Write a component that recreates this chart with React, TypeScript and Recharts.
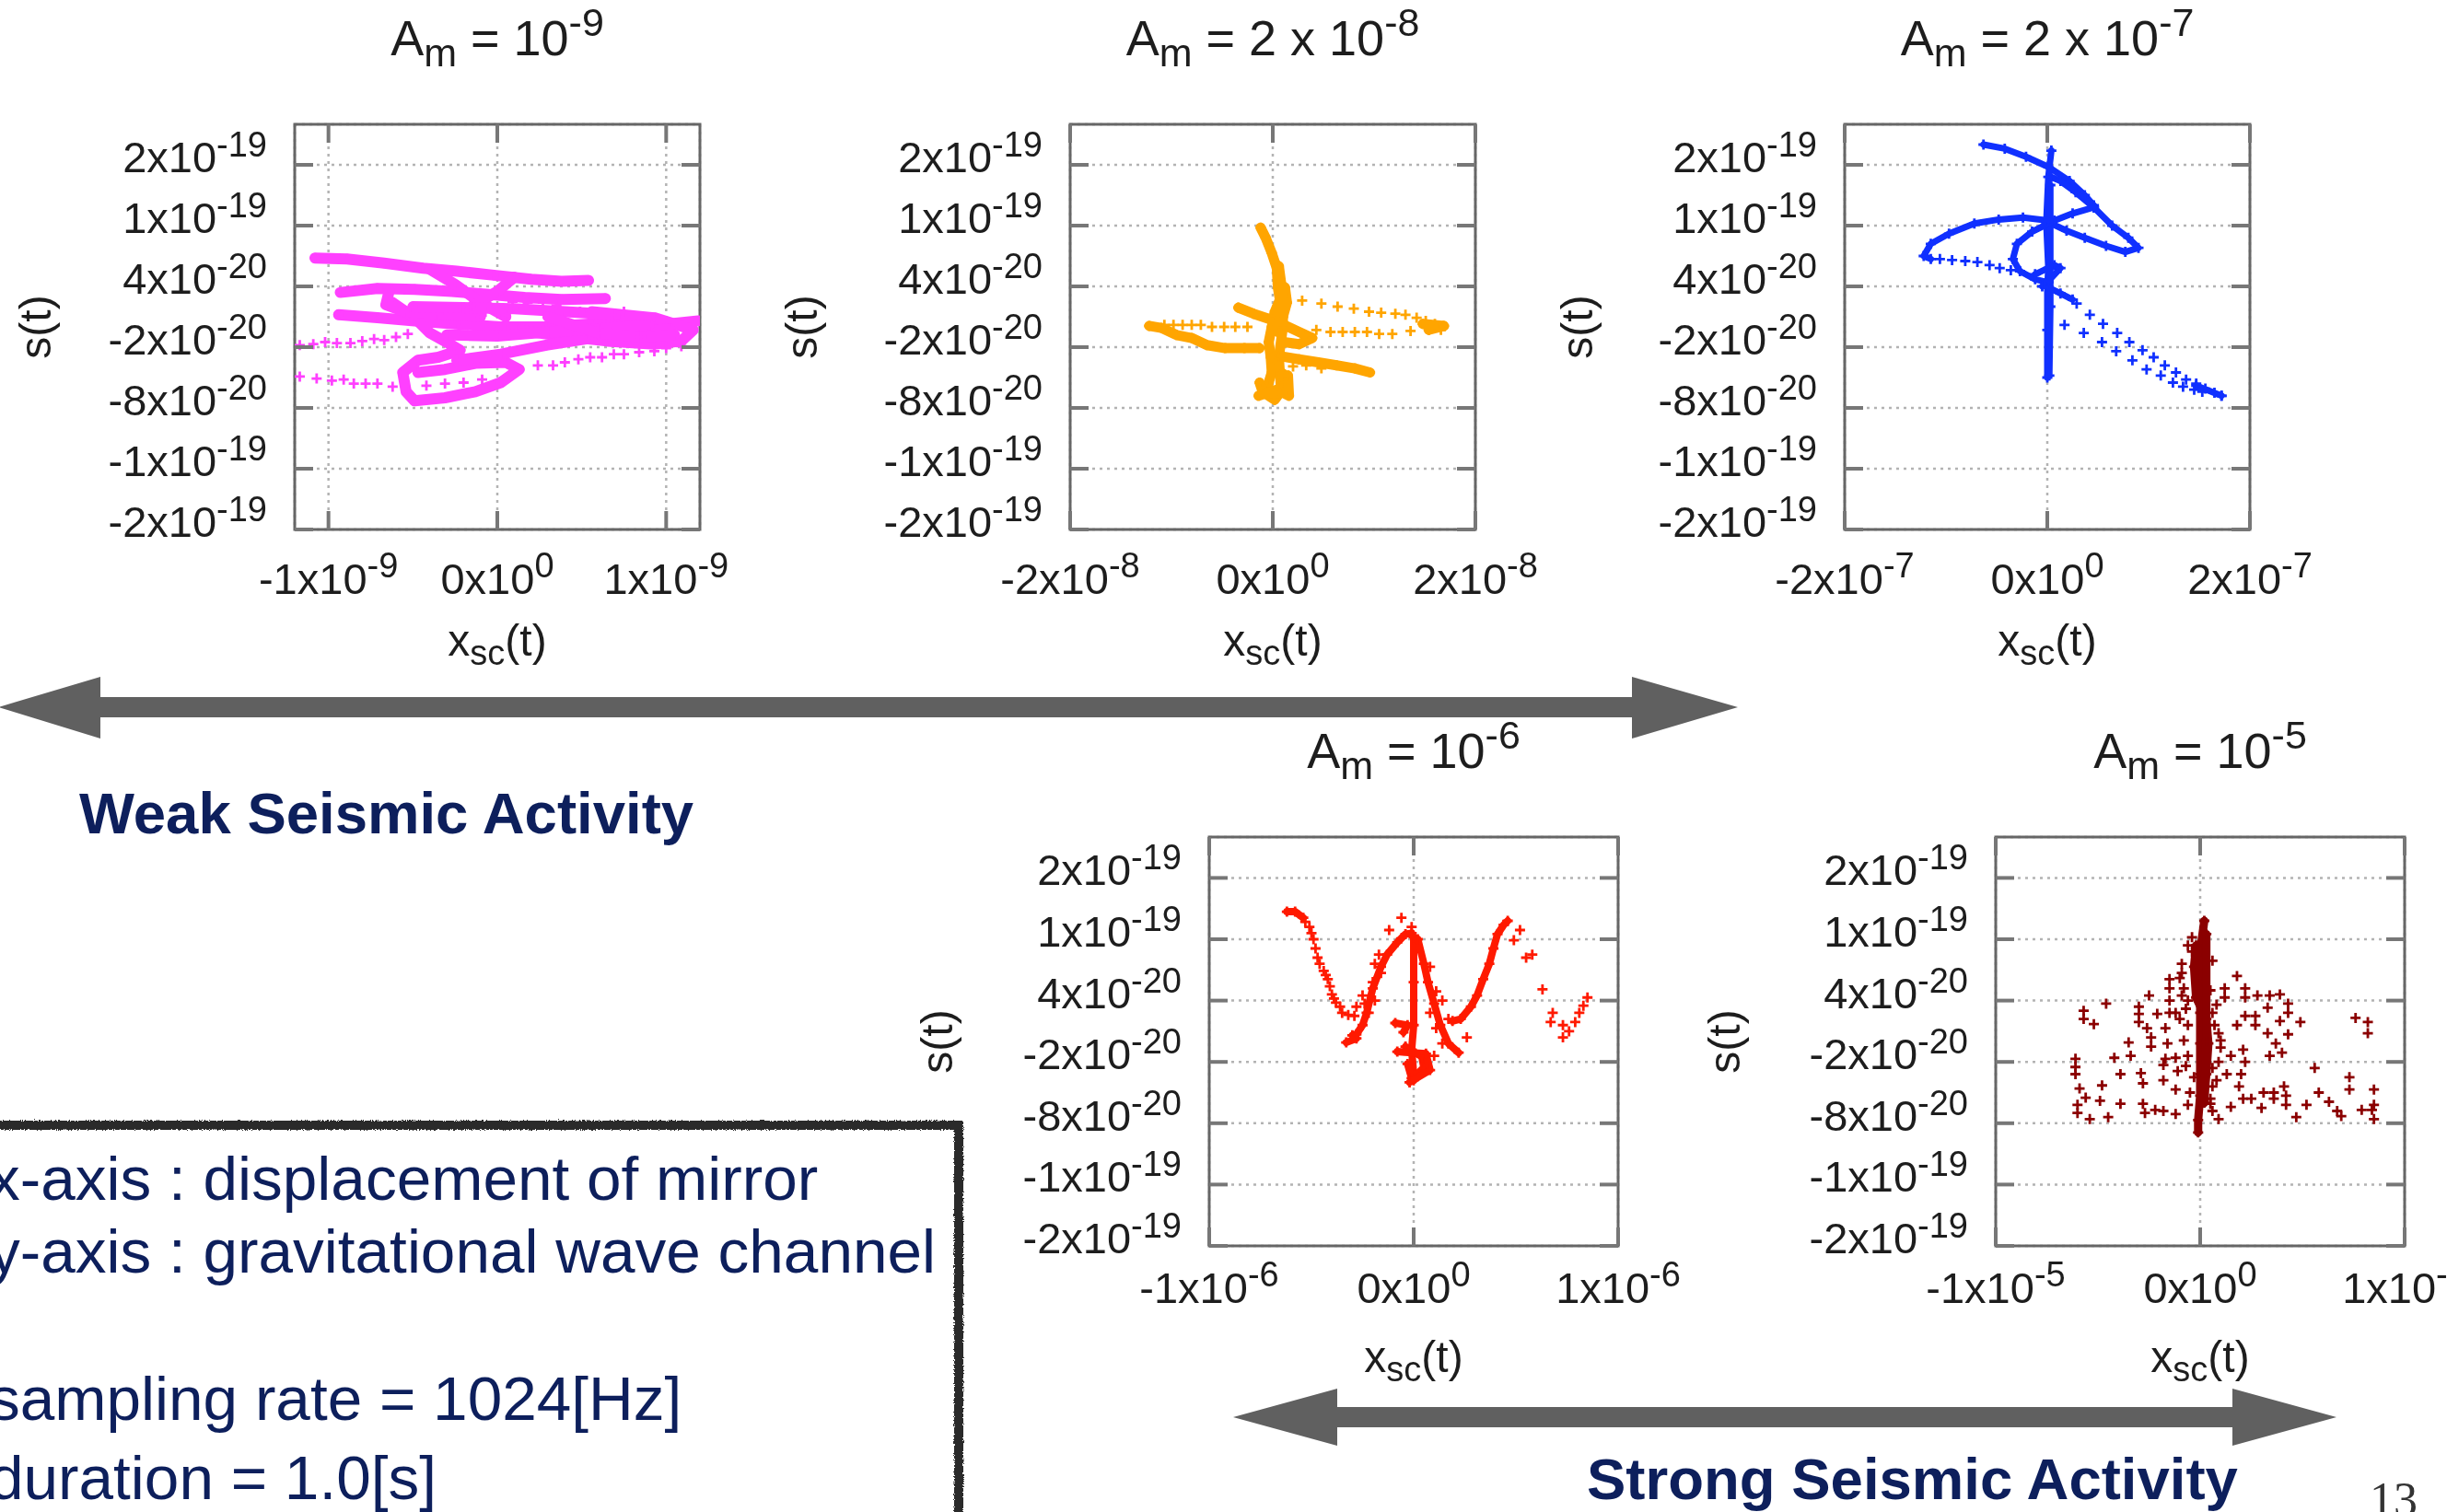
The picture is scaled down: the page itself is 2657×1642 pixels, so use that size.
import React from "react";
import { ScatterChart, Scatter, XAxis, YAxis, CartesianGrid, ReferenceArea } from "recharts";

type Pt = [number, number];
type TickText = [string, string]; // mantissa, exponent of "m x 10^e"

// s(t) axis, values in units of 1e-20 (same for all panels)
const S_DOMAIN: [number, number] = [-20, 20];
const S_TICKS = [-20, -14, -8, -2, 4, 10, 16];
const S_TICK_LABELS: TickText[] = [
  ["-2", "-19"], ["-1", "-19"], ["-8", "-20"], ["-2", "-20"], ["4", "-20"], ["1", "-19"], ["2", "-19"],
];

// ---- A_m = 1e-9 : x in units of 1e-9 ----
const AM1E9_X_TICKS = [-1, 0, 1];
const AM1E9_X_LABELS: TickText[] = [["-1", "-9"], ["0", "0"], ["1", "-9"]];
const am1e9Trails: Pt[][] = [
  [[-1.08, 6.8], [-0.89, 6.7], [-0.67, 6.3], [-0.44, 5.8], [-0.24, 5.5], [-0.02, 5.1], [0.2, 4.7], [0.38, 4.5], [0.54, 4.6]],
  [[-0.93, 3.4], [-0.71, 3.8], [-0.49, 3.7], [-0.27, 3.5], [-0.05, 3.2], [0.16, 2.9], [0.38, 2.7], [0.64, 2.8]],
  [[-0.94, 1.2], [-0.71, 0.9], [-0.49, 0.6], [-0.25, 0.3], [0.02, 0.0], [0.29, 0.0], [0.56, 0.3], [0.84, 0.6], [1.02, 0.3], [1.19, 0.6]],
  [[0.56, 1.5], [0.93, 0.9], [1.16, -0.3], [1.09, -1.4], [0.93, -1.7], [0.65, -1.4], [0.38, -0.9], [0.11, -0.3]],
  [[-0.62, 2.4], [-0.49, 0.9], [-0.4, -0.6], [-0.27, -1.8], [-0.22, -2.3], [-0.35, -3.0], [-0.47, -3.3], [-0.56, -4.5], [-0.54, -6.4], [-0.49, -7.3], [-0.31, -7.0], [-0.13, -6.4], [0.02, -5.5], [0.13, -4.2], [0.05, -3.5], [-0.13, -3.6], [-0.31, -4.2], [-0.47, -4.5]],
  [[-0.24, -3.3], [0.02, -2.7], [0.29, -1.8], [0.56, -1.1], [0.84, -0.5], [1.02, -0.2]],
  [[-0.64, 3.6], [-0.66, 2.2], [-0.55, 1.5], [-0.35, 1.3], [-0.1, 1.0]],
  [[-0.4, 5.7], [-0.25, 4.2], [-0.1, 2.4], [0.05, 1.0]],
  [[0.1, 4.9], [0.0, 3.5], [-0.15, 2.0]],
  [[-0.5, 2.0], [-0.2, 1.9], [0.1, 1.8], [0.4, 1.5], [0.7, 1.2]],
  [[-0.3, -0.8], [0.0, -0.9], [0.3, -0.5], [0.6, -0.2], [0.9, 0.2]],
  [[0.3, 1.0], [0.6, -0.6], [0.85, -1.0], [1.05, -0.8]],
];
const am1e9Dots: Pt[] = [
  [-1.17, -1.8], [-1.09, -1.7], [-1.02, -1.5], [-0.95, -1.6], [-0.87, -1.6], [-0.8, -1.4], [-0.73, -1.2], [-0.67, -1.3], [-0.6, -1.0], [-0.53, -0.7],
  [-1.17, -4.9], [-1.07, -5.1], [-0.98, -5.3], [-0.91, -5.2], [-0.85, -5.6], [-0.78, -5.6], [-0.71, -5.6], [-0.62, -5.9],
  [0.24, -3.8], [0.33, -3.8], [0.4, -3.5], [0.48, -3.2], [0.55, -3.0], [0.62, -3.0], [0.69, -2.7], [0.75, -2.7], [0.84, -2.5], [0.93, -2.4], [1.0, -2.1], [1.09, -1.9],
  [0.09, 2.5], [0.18, 2.4], [0.27, 2.4], [0.35, 2.1], [-0.16, 2.0], [-0.07, 1.5], [0.05, 1.2], [0.49, 1.5], [0.75, 1.5],
  [-0.42, -5.8], [-0.31, -5.6], [-0.2, -5.5], [-0.09, -5.2],
];

// ---- A_m = 2e-8 : x in units of 1e-8 ----
const AM2E8_X_TICKS = [-2, 0, 2];
const AM2E8_X_LABELS: TickText[] = [["-2", "-8"], ["0", "0"], ["2", "-8"]];
const am2e8Trails: Pt[][] = [
  [[-0.12, 9.8], [-0.07, 8.8], [-0.01, 7.3], [0.04, 5.8], [0.05, 3.9], [0.07, 2.7], [0.02, 1.5], [-0.01, 0.0], [-0.04, -1.5], [-0.02, -3.0], [-0.01, -4.5], [-0.05, -5.8], [0.02, -7.0], [0.1, -5.8], [0.07, -4.5]],
  [[0.12, 3.9], [0.14, 2.4], [0.1, 1.0], [0.05, -0.5]],
  [[0.06, 6.0], [0.1, 3.0], [0.1, 0.0], [0.06, -3.0], [0.08, -6.0]],
  [[-0.13, -5.5], [-0.1, -6.4], [0.02, -7.2], [0.14, -5.5], [0.1, -4.6]],
  [[-0.14, -6.8], [0.04, -6.2], [0.16, -6.8], [0.15, -4.8]],
  [[-1.22, 0.1], [-1.1, -0.1], [-0.95, -0.8], [-0.8, -1.1], [-0.65, -1.8], [-0.47, -2.1], [-0.28, -2.1], [-0.13, -2.1]],
  [[-0.34, 1.9], [-0.19, 1.3], [-0.04, 0.8], [0.11, 0.2], [0.26, -0.5], [0.39, -1.1], [0.26, -1.7], [0.11, -1.5]],
  [[0.08, -2.9], [0.26, -3.2], [0.45, -3.5], [0.63, -3.8], [0.81, -4.1], [0.96, -4.5]],
  [[1.48, 0.3], [1.69, 0.1], [1.54, -0.3]],
];
const am2e8Dots: Pt[] = [
  [-1.07, 0.2], [-0.98, 0.2], [-0.89, 0.2], [-0.8, 0.2], [-0.71, 0.2], [-0.6, 0.0], [-0.48, 0.0], [-0.37, 0.0], [-0.25, 0.0],
  [0.29, 2.6], [0.48, 2.3], [0.64, 2.0], [0.8, 1.8], [0.95, 1.5], [1.07, 1.4], [1.21, 1.3], [1.31, 1.2], [1.42, 0.9], [1.51, 0.6], [1.6, 0.3], [1.68, 0.1],
  [1.66, -0.3], [1.54, -0.3], [1.36, -0.4], [1.18, -0.7], [1.05, -0.7], [0.93, -0.5], [0.81, -0.5], [0.69, -0.5], [0.57, -0.5], [0.43, -0.3],
  [0.2, -3.9], [0.33, -3.8], [0.48, -4.1],
];

// ---- A_m = 2e-7 : x in units of 1e-7 ----
const AM2E7_X_TICKS = [-2, 0, 2];
const AM2E7_X_LABELS: TickText[] = [["-2", "-7"], ["0", "0"], ["2", "-7"]];
const am2e7Trails: Pt[][] = [
  [[0.04, 17.4], [0.01, 14.8], [-0.01, 10.3], [0.01, 5.8], [0.0, 3.9], [0.0, -0.3], [0.0, -5.0]],
  [[0.03, 14.0], [0.03, 2.0], [0.02, -4.8]],
  [[-0.63, 18.0], [-0.42, 17.6], [-0.21, 16.8], [0.01, 15.8], [0.22, 14.4], [0.37, 13.0], [0.46, 12.0]],
  [[0.46, 11.8], [0.28, 13.3], [0.13, 14.4], [0.04, 14.8]],
  [[0.46, 11.8], [0.64, 10.0], [0.8, 8.8], [0.9, 7.8], [0.77, 7.4], [0.58, 8.0], [0.37, 8.8], [0.19, 9.5], [0.04, 10.2]],
  [[0.46, 11.8], [0.25, 11.2], [0.07, 10.5], [-0.15, 9.4], [-0.3, 8.2], [-0.34, 6.7], [-0.27, 5.5], [-0.12, 4.7], [0.01, 4.4]],
  [[0.01, 10.5], [-0.24, 10.8], [-0.48, 10.6], [-0.72, 10.2], [-0.97, 9.2], [-1.15, 8.2], [-1.22, 7.0], [-1.15, 6.7]],
  [[-0.12, 5.2], [0.07, 6.1], [0.13, 5.8], [0.01, 4.5], [-0.05, 4.0]],
  [[0.01, 3.9], [0.13, 3.3], [0.25, 2.7]],
  [[1.47, -5.8], [1.72, -6.8]],
];
const am2e7Dots: Pt[] = [
  [-1.06, 6.7], [-0.94, 6.6], [-0.81, 6.5], [-0.69, 6.4], [-0.57, 6.1], [-0.47, 5.8], [-0.36, 5.6],
  [0.29, 2.3], [0.42, 1.2], [0.55, 0.3], [0.69, -0.6], [0.81, -1.5], [0.94, -2.3], [1.05, -3.0], [1.16, -3.8], [1.27, -4.5], [1.37, -5.2], [1.47, -5.6], [1.56, -6.1], [1.65, -6.5], [1.72, -6.8],
  [0.17, 0.2], [0.36, -0.6], [0.54, -1.5], [0.68, -2.4], [0.84, -3.3], [0.98, -4.2], [1.12, -4.8], [1.24, -5.5], [1.34, -5.9], [1.45, -6.2], [1.53, -6.4],
];

// ---- A_m = 1e-6 : x in units of 1e-6 ----
const AM1E6_X_TICKS = [-1, 0, 1];
const AM1E6_X_LABELS: TickText[] = [["-1", "-6"], ["0", "0"], ["1", "-6"]];
const am1e6Trails: Pt[][] = [
  [[-0.62, 12.7], [-0.58, 12.7], [-0.54, 12.1]],
  [[-0.33, -0.1], [-0.28, 0.3], [-0.3, 0.6], [-0.28, 0.7], [-0.25, 1.6], [-0.23, 2.8], [-0.2, 5.2], [-0.16, 7.3], [-0.13, 8.5], [-0.08, 9.7], [-0.04, 10.5], [-0.01, 10.6]],
  [[0, 10.2], [0, 5.8], [0, 1.6], [-0.01, -0.8], [0, -3.2], [0, -3.8]],
  [[-0.09, 1.8], [-0.03, 1.6], [-0.05, 0.9]],
  [[-0.04, -0.5], [0.04, -1.5], [0.05, -2.6], [-0.01, -3.6], [-0.03, -2.2]],
  [[-0.08, -1.0], [0.06, -1.2], [0.08, -2.8], [-0.02, -4.0]],
  [[0.02, 10.0], [0.05, 7.6], [0.07, 5.8], [0.1, 3.7], [0.13, 1.6], [0.17, -0.2], [0.22, -1.1]],
  [[0.19, 2.0], [0.23, 2.2], [0.28, 3.4], [0.31, 4.5], [0.34, 6.1], [0.37, 7.6], [0.39, 9.1], [0.41, 10.5], [0.44, 11.4], [0.46, 11.8]],
];
const am1e6Dots: Pt[] = [
  [-0.53, 11.7], [-0.51, 11.2], [-0.5, 10.6], [-0.49, 10.0], [-0.48, 9.1], [-0.47, 8.2], [-0.46, 7.6], [-0.44, 6.9], [-0.43, 6.5], [-0.42, 6.1], [-0.41, 5.4],
  [-0.4, 4.6], [-0.39, 4.2], [-0.38, 3.8], [-0.36, 3.4], [-0.35, 2.8], [-0.32, 2.6], [-0.29, 2.5], [-0.25, 4.5], [-0.22, 2.8], [-0.28, 3.4], [-0.24, 3.7], [-0.19, 4.0],
  [-0.2, 5.8], [-0.16, 6.7], [-0.12, 10.9], [-0.06, 12.1], [-0.01, 11.2], [-0.17, 8.5], [-0.19, 7.6],
  [0.08, 7.3], [0.11, 4.9], [0.14, 4.0], [0.08, 2.8], [0.11, 1.3], [0.14, -0.2], [0.1, -1.4], [0.26, 0.4], [0.17, 2.2],
  [0.52, 10.9], [0.49, 9.9], [0.55, 8.2], [0.58, 8.5], [0.63, 5.1], [0.68, 2.8], [0.67, 1.9], [0.73, 1.6], [0.73, 0.4], [0.76, 1.0], [0.79, 1.9], [0.81, 2.8], [0.83, 3.5], [0.85, 4.3],
];

// ---- A_m = 1e-5 : x in units of 1e-5 ----
const AM1E5_X_TICKS = [-1, 0, 1];
const AM1E5_X_LABELS: TickText[] = [["-1", "-5"], ["0", "0"], ["1", "-5"]];
const am1e5Trails: Pt[][] = [
  [[0.02, 11.8], [0.0, 8.8], [0.0, 5.8], [0.0, 2.8], [0.0, -0.2], [0.0, -3.2], [0.0, -5.3], [-0.01, -7.7], [-0.01, -8.9]],
  [[-0.02, 9.4], [-0.03, 7.3], [-0.02, 4.3], [0.03, 2.2], [0.04, -0.2], [0.03, -3.2], [0.02, -5.6]],
  [[0.03, 10.5], [0.03, 0.0], [0.02, -6.0]],
];
const am1e5Dots: Pt[] = [
  [-0.57, 3.0], [-0.57, 2.2], [-0.52, 1.7], [-0.46, 3.7], [-0.25, 4.5], [-0.3, 3.4], [-0.3, 2.7], [-0.3, 1.9], [-0.26, 1.3], [-0.24, 0.4],
  [-0.35, -0.1], [-0.24, -0.5], [-0.21, 2.7], [-0.15, 6.1], [-0.15, 5.2], [-0.15, 4.0], [-0.15, 2.8], [-0.09, 7.6], [-0.09, 6.7], [-0.09, 4.5],
  [-0.12, 2.8], [-0.17, 1.3], [-0.16, -0.2], [-0.17, -1.7], [-0.12, -1.6], [-0.11, -2.9], [-0.18, -2.3], [-0.18, -3.8], [-0.12, -4.7], [-0.06, -6.2],
  [-0.12, -7.1], [-0.18, -6.8], [-0.22, -6.7], [-0.28, -6.1], [-0.27, -7.0], [-0.39, -6.1], [-0.45, -7.4], [-0.54, -7.6], [-0.6, -6.2], [-0.6, -7.0],
  [-0.49, -5.8], [-0.56, -5.5], [-0.59, -4.6], [-0.61, -3.2], [-0.61, -2.5], [-0.61, -1.7], [-0.42, -1.6], [-0.34, -1.4], [-0.39, -3.2], [-0.48, -4.3],
  [-0.29, -3.1], [-0.28, -4.1],
  [0.06, 7.9], [0.18, 6.4], [0.22, 5.2], [0.22, 4.3], [0.28, 4.5], [0.34, 4.5], [0.39, 4.6], [0.43, 3.7], [0.43, 2.8], [0.49, 1.9],
  [0.39, 2.0], [0.33, 3.3], [0.27, 2.5], [0.27, 1.6], [0.22, 2.5], [0.18, 1.6], [0.12, 5.2], [0.12, 4.3], [0.1, 0.1], [0.15, -1.4],
  [0.21, -0.8], [0.22, -2.0], [0.2, -3.2], [0.19, -4.4], [0.21, -5.6], [0.25, -5.6], [0.31, -5.0], [0.3, -6.5], [0.36, -5.0], [0.36, -5.6],
  [0.41, -4.4], [0.42, -5.3], [0.42, -6.2], [0.34, -1.4], [0.4, -1.1], [0.43, 0.7], [0.37, -0.2], [0.33, 0.8], [0.47, -7.4], [0.52, -6.2],
  [0.56, -2.6], [0.58, -5.0], [0.63, -5.9], [0.67, -6.8], [0.69, -7.3], [0.73, -3.5], [0.73, -4.7], [0.76, 2.3], [0.82, 1.9], [0.82, 0.8],
  [0.85, -4.7], [0.79, -6.7], [0.84, -6.7], [0.85, -6.2], [0.85, -7.6], [0.15, -6.4], [0.09, -7.6], [0.05, -6.1], [0.09, -2.0], [0.13, -3.2],
  [-0.06, 9.4], [-0.04, 8.8], [-0.08, 5.2], [-0.06, 4.0], [-0.06, 1.6], [-0.08, 0.1], [-0.06, -1.4], [0.06, 2.8], [0.07, 1.6], [0.09, 0.8],
  [0.05, -5.6], [0.06, -4.4], [-0.03, -3.5], [-0.05, -5.0], [0.06, -2.6],
  [-0.07, 3.2], [-0.1, 2.2], [0.08, 3.6], [0.1, -0.6], [-0.07, -2.4], [0.08, -3.8], [-0.1, 6.2], [0.05, 5.0], [-0.04, 10.2], [0.06, -6.8],
];

const FONT = '"Liberation Sans", Arial, Helvetica, sans-serif';
const INK = "#1d1d1d";
const NAVY = "#0d1f5c";
const PAD_L = 330;
const PAD_T = 130;
const PAD_R = 130;
const PAD_B = 160;
const TICK_LEN = 20;

function Mark({ cx, cy, color }: { cx: number; cy: number; color: string }) {
  return <path d={`M${cx - 5.5},${cy}h11M${cx},${cy - 5.5}v11`} stroke={color} strokeWidth={2.8} fill="none" />;
}

function STick(props: any) {
  const { x, y, payload, size } = props;
  const idx = S_TICKS.indexOf(payload.value);
  const [m, e] = S_TICK_LABELS[idx] ?? ["", ""];
  return (
    <g>
      <line x1={x} x2={x + TICK_LEN} y1={y} y2={y} stroke="#777" strokeWidth={4} />
      <line x1={x + size - TICK_LEN} x2={x + size} y1={y} y2={y} stroke="#777" strokeWidth={4} />
      <text x={x - 30} y={y + 8} textAnchor="end" fontSize={47} fill={INK} fontFamily={FONT}>
        {m}x10<tspan fontSize={38} dy={-17}>{e}</tspan>
      </text>
    </g>
  );
}

function XTick(props: any) {
  const { x, y, payload, size, ticks, labels, labelDy } = props;
  const idx = ticks.indexOf(payload.value);
  const [m, e] = labels[idx] ?? ["", ""];
  return (
    <g>
      <line x1={x} x2={x} y1={y} y2={y - TICK_LEN} stroke="#777" strokeWidth={4} />
      <line x1={x} x2={x} y1={y - size} y2={y - size + TICK_LEN} stroke="#777" strokeWidth={4} />
      <text x={x} y={y + labelDy} textAnchor="middle" fontSize={47} fill={INK} fontFamily={FONT}>
        {m}x10<tspan fontSize={38} dy={-18}>{e}</tspan>
      </text>
    </g>
  );
}

interface PanelProps {
  left: number;
  top: number;
  size: number;
  sGap: number;
  xLabelDy: number;
  color: string;
  trailWidth: number;
  titleCoef: string;
  titleExp: string;
  xDomain: [number, number];
  xTicks: number[];
  xLabels: TickText[];
  trails: Pt[][];
  dots: Pt[];
}

function Panel(p: PanelProps) {
  const W = PAD_L + p.size + PAD_R;
  const H = PAD_T + p.size + PAD_B;
  const cx = PAD_L + p.size / 2;
  const cy = PAD_T + p.size / 2;
  const rows = (pts: Pt[]) => pts.map(([x, s]) => ({ x, s }));
  const shape = (sp: any) => <Mark cx={sp.cx} cy={sp.cy} color={p.color} />;

  return (
    <div style={{ position: "absolute", left: p.left - PAD_L, top: p.top - PAD_T, width: W, height: H, filter: "blur(0.6px)" }}>
      <ScatterChart width={W} height={H} margin={{ top: PAD_T, right: PAD_R, bottom: 0, left: 0 }}>
        <CartesianGrid stroke="#b3b3b3" strokeWidth={2.5} strokeDasharray="3 5" />
        <XAxis
          type="number"
          dataKey="x"
          domain={p.xDomain}
          ticks={p.xTicks}
          interval={0}
          allowDataOverflow
          height={PAD_B}
          axisLine={false}
          tickLine={false}
          tickSize={0}
          tickMargin={0}
          tick={(t: any) => <XTick {...t} size={p.size} ticks={p.xTicks} labels={p.xLabels} labelDy={p.xLabelDy} />}
        />
        <YAxis
          type="number"
          dataKey="s"
          domain={S_DOMAIN}
          ticks={S_TICKS}
          interval={0}
          allowDataOverflow
          width={PAD_L}
          axisLine={false}
          tickLine={false}
          tickSize={0}
          tickMargin={0}
          tick={(t: any) => <STick {...t} size={p.size} />}
        />
        <ReferenceArea
          x1={p.xDomain[0]}
          x2={p.xDomain[1]}
          y1={S_DOMAIN[0]}
          y2={S_DOMAIN[1]}
          fill="none"
          fillOpacity={0}
          stroke="#666"
          strokeWidth={3}
          ifOverflow="visible"
        />
        {p.trails.map((t, i) => (
          <Scatter
            key={`trail-${i}`}
            data={rows(t)}
            fill={p.color}
            line={{ stroke: p.color, strokeWidth: p.trailWidth, strokeLinecap: "round", strokeLinejoin: "round" }}
            shape={shape}
            isAnimationActive={false}
          />
        ))}
        <Scatter data={rows(p.dots)} fill={p.color} shape={shape} isAnimationActive={false} />
      </ScatterChart>
      <svg width={W} height={H} style={{ position: "absolute", left: 0, top: 0, pointerEvents: "none" }} fontFamily={FONT} fill={INK}>
        <text x={cx} y={PAD_T - 75} textAnchor="middle" fontSize={54} style={{ whiteSpace: "pre" }}>
          A<tspan fontSize={43} dy={12}>m</tspan>
          <tspan dy={-12}>{` = ${p.titleCoef}10`}</tspan>
          <tspan fontSize={43} dy={-21}>{p.titleExp}</tspan>
        </text>
        <text transform={`translate(${PAD_L - p.sGap}, ${cy}) rotate(-90)`} textAnchor="middle" dominantBaseline="central" fontSize={48}>
          s(t)
        </text>
        <text x={cx} y={PAD_T + p.size + 137} textAnchor="middle" fontSize={48}>
          x<tspan fontSize={38} dy={10}>sc</tspan>
          <tspan dy={-10}>(t)</tspan>
        </text>
      </svg>
    </div>
  );
}

export default function App() {
  return (
    <div style={{ position: "absolute", left: 0, top: 0, width: 2657, height: 1642, overflow: "hidden", background: "#fff", fontFamily: FONT }}>
      <svg width={2657} height={1642} style={{ position: "absolute", left: 0, top: 0 }} fontFamily={FONT}>
        <defs>
          <filter id="chalk" x="-5%" y="-5%" width="110%" height="110%">
            <feTurbulence type="fractalNoise" baseFrequency="0.9" numOctaves={2} result="noise" />
            <feDisplacementMap in="SourceGraphic" in2="noise" scale={4} />
          </filter>
        </defs>
        {/* weak-side double arrow */}
        <polygon
          points="-2,768 109,735 109,757 1772,757 1772,735 1887,768 1772,802 1772,779 109,779 109,802"
          fill="#606060"
        />
        {/* strong-side double arrow */}
        <polygon
          points="1339,1539 1452,1508 1452,1528 2424,1528 2424,1508 2537,1539 2424,1570 2424,1550 1452,1550 1452,1570"
          fill="#606060"
        />
        <text x={86} y={905} fontSize={63.5} fontWeight="bold" fill={NAVY}>Weak Seismic Activity</text>
        <text x={1723} y={1628} fontSize={63.5} fontWeight="bold" fill={NAVY}>Strong Seismic Activity</text>

        <rect x={-30} y={1222} width={1071} height={600} fill="none" stroke="#2b2b2b" strokeWidth={10} filter="url(#chalk)" />
        <text x={-12} y={1303} fontSize={67.5} fill={NAVY}>x-axis : displacement of mirror</text>
        <text x={-12} y={1382} fontSize={67.5} fill={NAVY}>y-axis : gravitational wave channel</text>
        <text x={-12} y={1542} fontSize={67.5} fill={NAVY}>sampling rate = 1024[Hz]</text>
        <text x={-12} y={1628} fontSize={67.5} fill={NAVY}>duration = 1.0[s]</text>

        <text x={2573} y={1646} fontSize={52} fontFamily='"Liberation Serif", serif' fill="#333">13</text>
      </svg>

      <Panel left={320} top={135} size={440} sGap={282} xLabelDy={70} color="#ff40ff" trailWidth={12}
        titleCoef="" titleExp="-9" xDomain={[-1.2, 1.2]} xTicks={AM1E9_X_TICKS} xLabels={AM1E9_X_LABELS}
        trails={am1e9Trails} dots={am1e9Dots} />
      <Panel left={1162} top={135} size={440} sGap={292} xLabelDy={70} color="#ffa500" trailWidth={11}
        titleCoef="2 x " titleExp="-8" xDomain={[-2, 2]} xTicks={AM2E8_X_TICKS} xLabels={AM2E8_X_LABELS}
        trails={am2e8Trails} dots={am2e8Dots} />
      <Panel left={2003} top={135} size={440} sGap={291} xLabelDy={70} color="#1030ff" trailWidth={7}
        titleCoef="2 x " titleExp="-7" xDomain={[-2, 2]} xTicks={AM2E7_X_TICKS} xLabels={AM2E7_X_LABELS}
        trails={am2e7Trails} dots={am2e7Dots} />
      <Panel left={1313} top={909} size={444} sGap={296} xLabelDy={62} color="#ff1a00" trailWidth={8}
        titleCoef="" titleExp="-6" xDomain={[-1, 1]} xTicks={AM1E6_X_TICKS} xLabels={AM1E6_X_LABELS}
        trails={am1e6Trails} dots={am1e6Dots} />
      <Panel left={2167} top={909} size={444} sGap={295} xLabelDy={62} color="#8b0000" trailWidth={9}
        titleCoef="" titleExp="-5" xDomain={[-1, 1]} xTicks={AM1E5_X_TICKS} xLabels={AM1E5_X_LABELS}
        trails={am1e5Trails} dots={am1e5Dots} />
    </div>
  );
}
